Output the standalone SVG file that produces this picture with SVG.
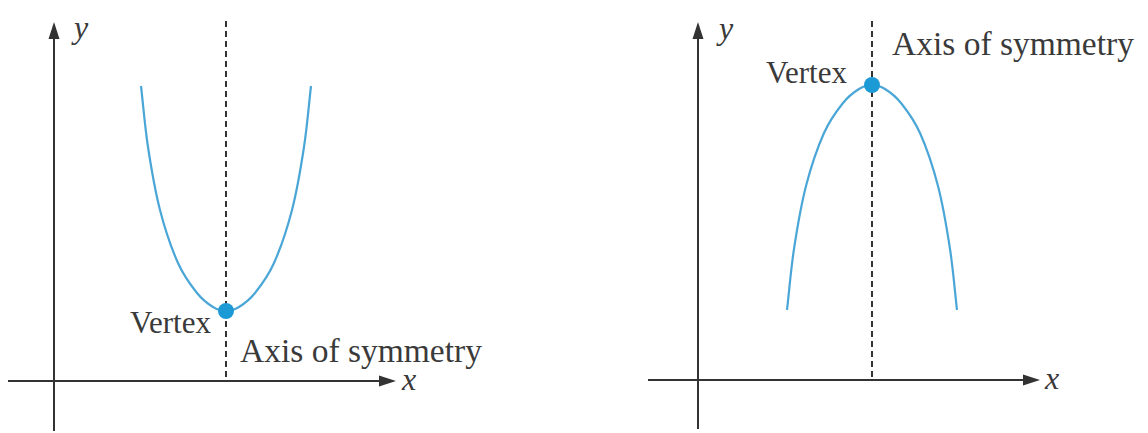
<svg xmlns="http://www.w3.org/2000/svg" width="1148" height="433" viewBox="0 0 1148 433">
  <style>
    .axis { stroke: #333; stroke-width: 2; fill: none; }
    .sym { stroke: #333; stroke-width: 2; stroke-dasharray: 6 4; fill: none; }
    .curve { stroke: #4aa6d6; stroke-width: 2.2; fill: none; }
    .dot { fill: #1c9ad6; }
    .lbl { font-family: "Liberation Serif", "Times New Roman", serif; fill: #3a3a3a; }
    .var { font-family: "Liberation Serif", "Times New Roman", serif; font-style: italic; fill: #3a3a3a; font-size: 32px; }
    .head { fill: #333; }
  </style>
  <defs>
    <path id="para" d="M -85,-225 C -82.67,-204.67 -81.17,-184.67 -78,-164 C -74.83,-143.33 -71,-120.33 -66,-101 C -61,-81.67 -54.17,-61.83 -48,-48 C -41.83,-34.17 -34.83,-25.33 -29,-18 C -23.17,-10.67 -17.83,-7 -13,-4 C -8.17,-1 -4.33,0 0,0 C 4.33,0 8.170,-1 13,-4 C 17.83,-7 23.17,-10.67 29,-18 C 34.83,-25.33 41.83,-34.17 48,-48 C 54.17,-61.83 61,-81.67 66,-101 C 71,-120.33 74.83,-143.33 78,-164 C 81.17,-184.67 82.67,-204.67 85,-225"/>
  </defs>

  <g id="left-panel">
    <g id="left-axes">
      <line class="axis" x1="54" y1="431" x2="54" y2="36"/>
      <polygon class="head" points="54,22 48.5,39 59.5,39"/>
      <line class="axis" x1="8" y1="381" x2="382" y2="381"/>
      <polygon class="head" points="396,381 379,375.5 379,386.5"/>
      <text class="var" x="74" y="38">y</text>
      <text class="var" x="402" y="390">x</text>
    </g>
    <line id="left-symmetry" class="sym" x1="226" y1="21" x2="226" y2="381"/>
    <use id="left-parabola" href="#para" class="curve" transform="translate(226,311)"/>
    <circle id="left-vertex" class="dot" cx="226" cy="311" r="8"/>
    <text class="lbl" x="130" y="333" font-size="31">Vertex</text>
    <text class="lbl" x="240" y="362" font-size="33.5">Axis of symmetry</text>
  </g>

  <g id="right-panel">
    <g id="right-axes">
      <line class="axis" x1="698" y1="429" x2="698" y2="36"/>
      <polygon class="head" points="698,22 692.5,39 703.5,39"/>
      <line class="axis" x1="648" y1="380" x2="1026" y2="380"/>
      <polygon class="head" points="1040,380 1023,374.5 1023,385.5"/>
      <text class="var" x="719" y="39">y</text>
      <text class="var" x="1045" y="389">x</text>
    </g>
    <line id="right-symmetry" class="sym" x1="872" y1="21" x2="872" y2="380"/>
    <use id="right-parabola" href="#para" class="curve" transform="translate(872,85) scale(1,-1)"/>
    <circle id="right-vertex" class="dot" cx="872" cy="85" r="8"/>
    <text class="lbl" x="766" y="83" font-size="31">Vertex</text>
    <text class="lbl" x="892" y="55" font-size="33.5">Axis of symmetry</text>
  </g>
</svg>
